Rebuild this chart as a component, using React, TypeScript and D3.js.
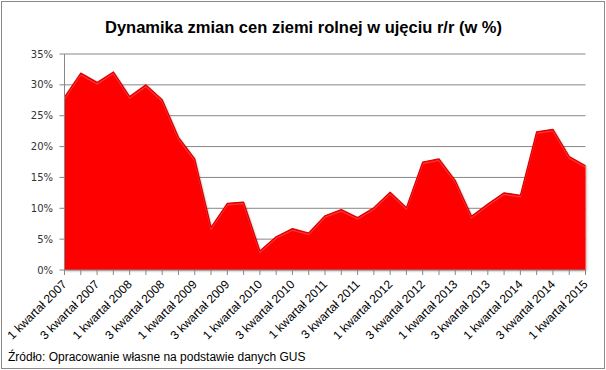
import React from "react";
import * as d3 from "d3";

const categories = [
  "1 kwartał 2007", "2 kwartał 2007", "3 kwartał 2007", "4 kwartał 2007",
  "1 kwartał 2008", "2 kwartał 2008", "3 kwartał 2008", "4 kwartał 2008",
  "1 kwartał 2009", "2 kwartał 2009", "3 kwartał 2009", "4 kwartał 2009",
  "1 kwartał 2010", "2 kwartał 2010", "3 kwartał 2010", "4 kwartał 2010",
  "1 kwartał 2011", "2 kwartał 2011", "3 kwartał 2011", "4 kwartał 2011",
  "1 kwartał 2012", "2 kwartał 2012", "3 kwartał 2012", "4 kwartał 2012",
  "1 kwartał 2013", "2 kwartał 2013", "3 kwartał 2013", "4 kwartał 2013",
  "1 kwartał 2014", "2 kwartał 2014", "3 kwartał 2014", "4 kwartał 2014",
  "1 kwartał 2015",
];

const values = [
  28.0, 31.9, 30.4, 32.1, 28.1, 30.0, 27.6, 21.5,
  18.0, 6.9, 10.8, 11.0, 3.1, 5.4, 6.7, 6.0,
  8.8, 9.8, 8.5, 10.1, 12.6, 10.1, 17.5, 18.0,
  14.5, 8.7, 10.7, 12.5, 12.1, 22.4, 22.8, 18.4,
  16.9,
];

const yTicks = [0, 5, 10, 15, 20, 25, 30, 35];

const title = "Dynamika zmian cen ziemi rolnej w ujęciu r/r (w %)";
const source = "Źródło: Opracowanie własne na podstawie danych GUS";

const W = 606;
const H = 370;
const left = 64.5;
const right = 585.5;
const top = 54;
const bottom = 270;

export default function App() {
  const x = d3.scalePoint<number>().domain(values.map((_, i) => i)).range([left, right]);
  const y = d3.scaleLinear().domain([0, 35]).range([bottom, top]);

  const area = d3
    .area<number>()
    .x((_, i) => x(i) as number)
    .y0(y(0))
    .y1((d) => y(d));
  const line = d3
    .line<number>()
    .x((_, i) => x(i) as number)
    .y((d) => y(d));
  const lineInner = d3
    .line<number>()
    .x((_, i) => x(i) as number)
    .y((d) => y(d) + 1.6);

  const grid = "#878787";

  return (
    <svg
      width={W}
      height={H}
      style={{ position: "absolute", left: 0, top: 0, background: "#fff" }}
    >
      <defs>
        <filter id="sh" x="-10%" y="-10%" width="120%" height="120%">
          <feDropShadow dx="1" dy="1" stdDeviation="1.2" floodColor="#000" floodOpacity="0.35" />
        </filter>
      </defs>
      <rect x={0} y={0} width={W} height={H} fill="#fff" />
      <rect x={1.5} y={1.5} width={W - 3} height={H - 3} fill="none" stroke="#8a8a8a" strokeWidth={1} />

      <text
        x={303.5}
        y={33}
        textAnchor="middle"
        fontFamily="Liberation Sans, Arial, sans-serif"
        fontWeight="bold"
        fontSize={17}
        textLength={397}
        lengthAdjust="spacingAndGlyphs"
        fill="#000"
      >
        {title}
      </text>

      {yTicks.map((t) => (
        <g key={t}>
          {t > 0 && (
            <line x1={left} x2={right} y1={y(t)} y2={y(t)} stroke={grid} strokeWidth={1} />
          )}
          <line x1={left - 5} x2={left} y1={y(t)} y2={y(t)} stroke={grid} strokeWidth={1} />
          <text
            x={53}
            y={y(t)}
            dy="0.35em"
            textAnchor="end"
            fontFamily="DejaVu Sans, Verdana, sans-serif"
            fontSize={10}
            fill="#333"
          >
            {t + "%"}
          </text>
        </g>
      ))}

      <path d={area(values) || ""} fill="#ff0000" filter="url(#sh)" />
      <path d={lineInner(values) || ""} fill="none" stroke="#ff6060" strokeWidth={1.2} strokeOpacity={0.55} />
      <path d={line(values) || ""} fill="none" stroke="#d80000" strokeWidth={1.2} strokeLinejoin="round" />

      <line x1={left} x2={left} y1={top} y2={bottom} stroke={grid} strokeWidth={1} />
      <line x1={left} x2={right} y1={bottom} y2={bottom} stroke={grid} strokeWidth={1} />
      {values.map((_, i) => (
        <line
          key={i}
          x1={x(i) as number}
          x2={x(i) as number}
          y1={bottom}
          y2={bottom + 5}
          stroke={grid}
          strokeWidth={1}
        />
      ))}

      {categories.map((c, i) =>
        i % 2 === 0 ? (
          <text
            key={c}
            transform={`translate(${(x(i) as number) + 3},${285}) rotate(-45)`}
            textAnchor="end"
            fontFamily="Liberation Sans, Arial, sans-serif"
            fontSize={12}
            fill="#000"
          >
            {c}
          </text>
        ) : null
      )}

      <text
        x={8}
        y={361}
        fontFamily="Liberation Sans, Arial, sans-serif"
        fontSize={12}
        fill="#000"
      >
        {source}
      </text>
    </svg>
  );
}
